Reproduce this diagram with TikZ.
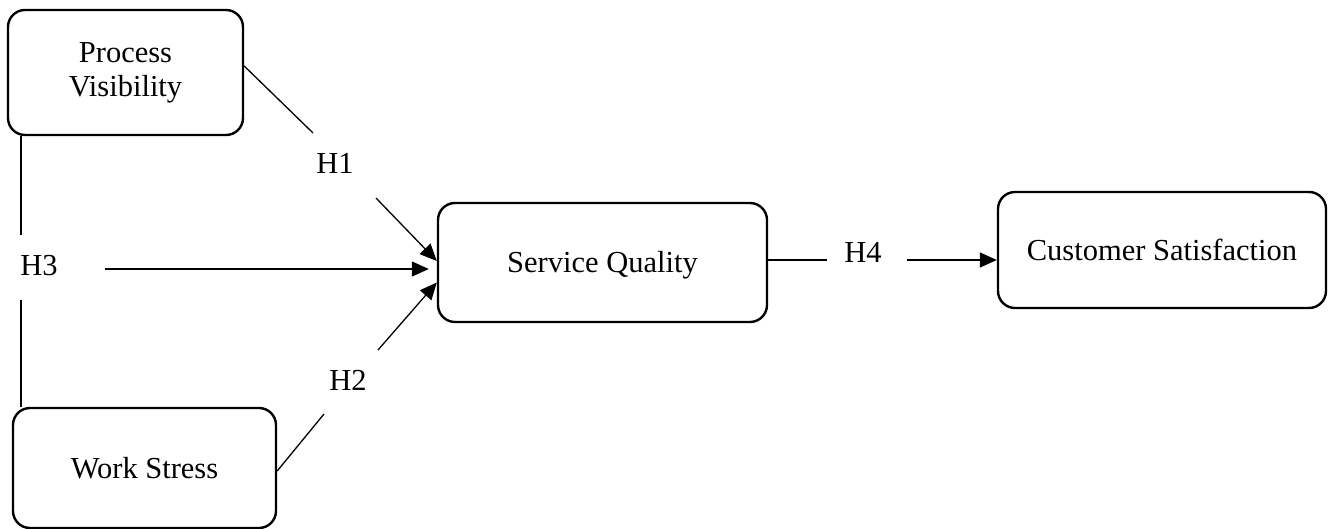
\documentclass[tikz,border=0pt]{standalone}
\usepackage{fontspec}
\setmainfont{Liberation Serif}
\usetikzlibrary{arrows.meta}
\begin{document}
\begin{tikzpicture}[x=1pt,y=-1pt,
  txt/.style={font=\fontsize{30.5}{34}\selectfont},
  box/.style={txt, draw, line width=2.4pt, rounded corners=17pt, align=center, inner sep=0pt},
  onebox/.style={box, text height=21pt, text depth=0pt},
  hlabel/.style={txt, inner sep=0pt},
  link/.style={line width=1.3pt},
  arrowlink/.style={link, -{Triangle[length=17pt,width=15pt]}}]
\useasboundingbox[fill=white] (0,0) rectangle (1328,529);

% constructs
\node[box, minimum width=235pt, minimum height=125pt] (pv) at (125.5,72.5) {\raisebox{-3pt}{\begin{tabular}{@{}c@{}}Process\\Visibility\end{tabular}}};
\node[onebox, minimum width=263pt, minimum height=120pt] (ws) at (144.5,468) {Work Stress};
\node[onebox, minimum width=329pt, minimum height=119pt] (sq) at (602.5,262.5) {Service Quality};
\node[onebox, minimum width=328pt, minimum height=116pt] (cs) at (1162,250) {Customer Satisfaction};

% hypothesis labels
\node[hlabel] (h1) at (335,163) {H1};
\node[hlabel] (h2) at (348,380) {H2};
\node[hlabel] (h3) at (39,266) {H3};
\node[hlabel] (h4) at (863,252) {H4};

% ends of the broken paths around the labels
\coordinate (h1s) at (313,133);
\coordinate (h1t) at (376,198);
\coordinate (h2s) at (324,414);
\coordinate (h2t) at (378,350);
\coordinate (h3top) at (21,235);
\coordinate (h3bot) at (21,300);
\coordinate (h3s) at (105,269);
\coordinate (h4a) at (827,260);
\coordinate (h4b) at (907,260);

% H1
\draw[link] ([yshift=6.5pt]pv.east) -- (h1s);
\draw[arrowlink] (h1t) -- ([yshift=1.5pt]sq.west);
% H2
\draw[link] ([yshift=-3pt]ws.east) -- (h2s);
\draw[arrowlink] (h2t) -- ([yshift=-20pt]sq.west);
% H3
\draw[link] (pv.south -| h3top) -- (h3top);
\draw[link] (h3bot) -- (ws.north -| h3bot);
\draw[arrowlink, shorten >=8pt] (h3s) -- (h3s -| sq.west);
% H4
\draw[link] (sq.east |- h4a) -- (h4a);
\draw[arrowlink] (h4b) -- (cs.west |- h4b);
\end{tikzpicture}
\end{document}
